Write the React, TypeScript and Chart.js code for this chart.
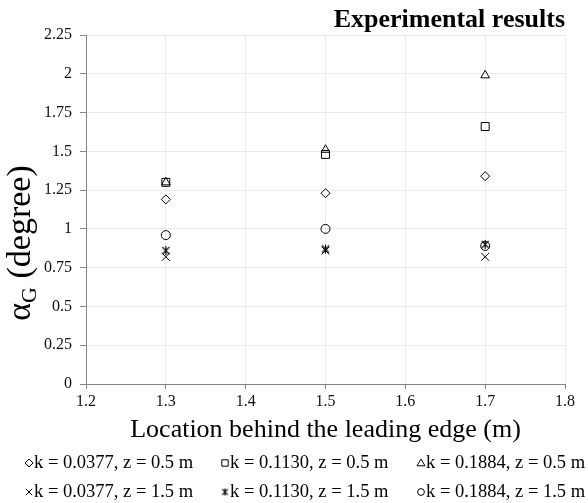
import React, { useEffect, useRef } from 'react';
import { Chart, registerables } from 'chart.js';

Chart.register(...registerables);

// ---- data ----
const xPositions = [1.3, 1.5, 1.7];
const diamondK0377z05 = [1.19, 1.23, 1.34];
const squareK1130z05 = [1.3, 1.48, 1.66];
const triangleK1884z05 = [1.3, 1.51, 1.99];
const crossK0377z15 = [0.82, 0.86, 0.82];
const starK1130z15 = [0.86, 0.87, 0.9];
const circleK1884z15 = [0.96, 1.0, 0.89];

const seriesLabels = [
  'k = 0.0377, z = 0.5 m',
  'k = 0.1130, z = 0.5 m',
  'k = 0.1884, z = 0.5 m',
  'k = 0.0377, z = 1.5 m',
  'k = 0.1130, z = 1.5 m',
  'k = 0.1884, z = 1.5 m',
];
const xTickValues = [1.2, 1.3, 1.4, 1.5, 1.6, 1.7, 1.8];
const yTickValues = [0, 0.25, 0.5, 0.75, 1, 1.25, 1.5, 1.75, 2, 2.25];
const titleText = 'Experimental results';
const xTitleText = 'Location behind the leading edge (m)';
const yTitleMain = 'α';
const yTitleSub = 'G';
const yTitleRest = ' (degree)';

const FONT = "'Liberation Serif', 'Times New Roman', serif";
const GRID = '#EEECE1';
const AXIS = '#868686';

function makeStarCanvas(size: number): HTMLCanvasElement {
  const c = document.createElement('canvas');
  c.width = size;
  c.height = size;
  const g = c.getContext('2d')!;
  g.strokeStyle = '#000';
  g.lineWidth = 1.2;
  const m = size / 2;
  const r = size / 2 - 1;
  g.beginPath();
  g.moveTo(m - r * 0.8, m - r * 0.8);
  g.lineTo(m + r * 0.8, m + r * 0.8);
  g.moveTo(m + r * 0.8, m - r * 0.8);
  g.lineTo(m - r * 0.8, m + r * 0.8);
  g.moveTo(m, m - r);
  g.lineTo(m, m + r);
  g.stroke();
  return c;
}

function pts(ys: number[]) {
  return xPositions.map((x, i) => ({ x, y: ys[i] }));
}

function drawMarker(ctx: CanvasRenderingContext2D, style: any, x: number, y: number, r: number) {
  ctx.save();
  ctx.strokeStyle = '#000';
  ctx.lineWidth = 1;
  ctx.beginPath();
  if (style === 'rectRot') {
    ctx.moveTo(x, y - r);
    ctx.lineTo(x + r, y);
    ctx.lineTo(x, y + r);
    ctx.lineTo(x - r, y);
    ctx.closePath();
    ctx.stroke();
  } else if (style === 'rect') {
    const s = r * 0.8;
    ctx.rect(x - s, y - s, 2 * s, 2 * s);
    ctx.stroke();
  } else if (style === 'triangle') {
    ctx.moveTo(x, y - r);
    ctx.lineTo(x + r, y + r * 0.7);
    ctx.lineTo(x - r, y + r * 0.7);
    ctx.closePath();
    ctx.stroke();
  } else if (style === 'crossRot') {
    const s = r * 0.8;
    ctx.moveTo(x - s, y - s);
    ctx.lineTo(x + s, y + s);
    ctx.moveTo(x + s, y - s);
    ctx.lineTo(x - s, y + s);
    ctx.stroke();
  } else if (style === 'circle') {
    ctx.arc(x, y, r * 0.85, 0, Math.PI * 2);
    ctx.stroke();
  } else if (style instanceof HTMLCanvasElement) {
    ctx.drawImage(style, x - style.width / 2, y - style.height / 2);
  }
  ctx.restore();
}

export default function App() {
  const ref = useRef<HTMLCanvasElement | null>(null);

  useEffect(() => {
    if (!ref.current) return;
    const star = makeStarCanvas(11);
    const starLegend = makeStarCanvas(9);
    const styles: any[] = ['rectRot', 'rect', 'triangle', 'crossRot', star, 'circle'];
    const legendStyles: any[] = ['rectRot', 'rect', 'triangle', 'crossRot', starLegend, 'circle'];
    const radii = [4.5, 5.6, 5, 5.6, 5, 4.5];
    const seriesData = [
      diamondK0377z05,
      squareK1130z05,
      triangleK1884z05,
      crossK0377z15,
      starK1130z15,
      circleK1884z15,
    ];

    const overlayPlugin = {
      id: 'overlay',
      afterDraw(chart: any) {
        const ctx: CanvasRenderingContext2D = chart.ctx;
        // y-axis title with subscript
        ctx.save();
        const fs = 34;
        const subFs = 22;
        ctx.font = `${fs}px ${FONT}`;
        const wMain = ctx.measureText(yTitleMain).width;
        const wRest = ctx.measureText(yTitleRest).width;
        ctx.font = `${subFs}px ${FONT}`;
        const wSub = ctx.measureText(yTitleSub).width;
        const total = wMain + wSub + wRest;
        const cx = 20;
        const cy = 243;
        ctx.translate(cx, cy);
        ctx.rotate(-Math.PI / 2);
        ctx.fillStyle = '#000';
        ctx.textBaseline = 'alphabetic';
        ctx.textAlign = 'left';
        const baseY = fs * 0.3;
        let xx = -total / 2;
        ctx.font = `${fs}px ${FONT}`;
        ctx.fillText(yTitleMain, xx, baseY);
        xx += wMain;
        ctx.font = `${subFs}px ${FONT}`;
        ctx.fillText(yTitleSub, xx, baseY + 6);
        xx += wSub;
        ctx.font = `${fs}px ${FONT}`;
        ctx.fillText(yTitleRest, xx, baseY);
        ctx.restore();

        // legend
        ctx.save();
        ctx.font = `18.5px ${FONT}`;
        ctx.fillStyle = '#000';
        ctx.textBaseline = 'middle';
        ctx.textAlign = 'left';
        const colMarker = [29, 225, 421];
        const rowY = [463, 492];
        seriesLabels.forEach((label, i) => {
          const col = i % 3;
          const row = Math.floor(i / 3);
          drawMarker(ctx, legendStyles[i], colMarker[col], rowY[row], 4);
          ctx.fillText(label, colMarker[col] + 5, rowY[row]);
        });
        ctx.restore();
      },
    };

    const chart = new Chart(ref.current, {
      type: 'scatter',
      data: {
        datasets: seriesData.map((ys, i) => ({
          label: seriesLabels[i],
          data: pts(ys),
          showLine: false,
          pointStyle: styles[i],
          pointRadius: radii[i],
          pointHoverRadius: radii[i],
          borderColor: '#000',
          backgroundColor: 'rgba(0,0,0,0)',
          borderWidth: 1,
        })),
      },
      options: {
        animation: false,
        responsive: true,
        maintainAspectRatio: false,
        layout: { padding: { left: 0, right: 23, top: 0, bottom: 55 } },
        plugins: {
          legend: { display: false },
          tooltip: { enabled: false },
          title: {
            display: true,
            text: titleText,
            align: 'end',
            color: '#000',
            font: { family: FONT, size: 26, weight: 'bold', lineHeight: 1.1 },
            padding: { top: 6, bottom: 0.4 },
          },
        },
        scales: {
          x: {
            type: 'linear',
            min: 1.2,
            max: 1.8,
            afterBuildTicks: (s: any) => {
              s.ticks = xTickValues.map((v) => ({ value: v }));
            },
            afterFit: (s: any) => {
              s.height = 64;
            },
            ticks: {
              color: '#111',
              font: { family: FONT, size: 16 },
              padding: 3,
              callback: (v: any) => Number(v).toFixed(1),
            },
            grid: { color: GRID, lineWidth: 1, tickLength: 5, tickColor: AXIS },
            border: { color: AXIS, width: 1 },
            title: {
              display: true,
              text: xTitleText,
              color: '#000',
              font: { family: FONT, size: 26 },
              padding: { top: 0, bottom: 2 },
            },
          },
          y: {
            type: 'linear',
            min: 0,
            max: 2.25,
            afterBuildTicks: (s: any) => {
              s.ticks = yTickValues.map((v) => ({ value: v }));
            },
            afterFit: (s: any) => {
              s.width = 86;
            },
            ticks: {
              color: '#111',
              font: { family: FONT, size: 16 },
              padding: 8,
              callback: (v: any) => String(Number(v)),
            },
            grid: { color: GRID, lineWidth: 1, tickLength: 6, tickColor: AXIS },
            border: { color: AXIS, width: 1 },
          },
        },
      },
      plugins: [overlayPlugin],
    });
    return () => chart.destroy();
  }, []);

  return (
    <div style={{ position: 'fixed', left: 0, top: 0, width: 588, height: 503, background: '#fff' }}>
      <canvas ref={ref} />
    </div>
  );
}
